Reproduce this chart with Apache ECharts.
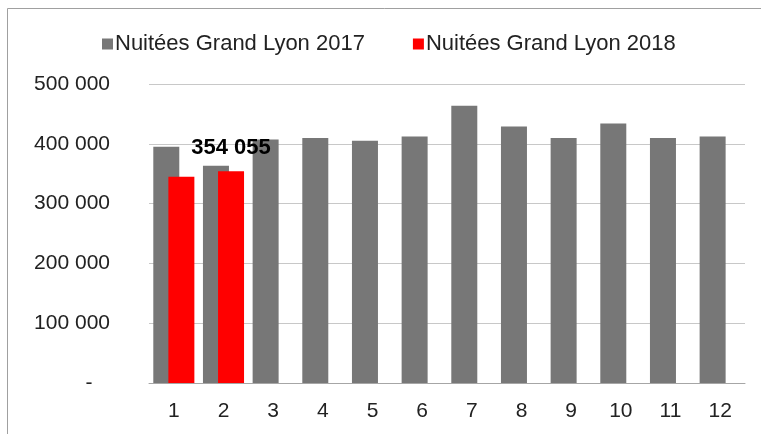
<!DOCTYPE html>
<html>
<head>
<meta charset="utf-8">
<script src="https://cdn.jsdelivr.net/npm/echarts@6/dist/echarts.min.js"></script>
<style>
  html, body { margin: 0; padding: 0; background: #fff; }
  #chart { width: 761px; height: 434px; }
</style>
</head>
<body>
<div id="chart"></div>
<script>
  // données
  var mois = ['1', '2', '3', '4', '5', '6', '7', '8', '9', '10', '11', '12'];
  var nuitees2017 = [395000, 363500, 407000, 409500, 405000, 412000, 463500, 429000, 409500, 434000, 409500, 412000];
  var nuitees2018 = [345000, 354055, null, null, null, null, null, null, null, null, null, null];
  var serieNoms = ['Nuitées Grand Lyon 2017', 'Nuitées Grand Lyon 2018'];

  var police = 'Liberation Sans, Arial, sans-serif';

  function formatMilliers(v) {
    if (v === 0) return '-   ';
    return String(Math.round(v)).replace(/\B(?=(\d{3})+(?!\d))/g, ' ');
  }

  var myChart = echarts.init(document.getElementById('chart'));

  var option = {
    animation: false,
    backgroundColor: '#fff',
    textStyle: { fontFamily: police },
    graphic: [{
      type: 'rect',
      shape: { x: 7.5, y: 8.5, width: 800, height: 500 },
      style: { fill: 'none', stroke: '#a0a0a0', lineWidth: 1 },
      silent: true
    }],
    legend: {
      top: 28,
      left: 97,
      icon: 'rect',
      itemWidth: 11,
      itemHeight: 11,
      itemGap: 48,
      textStyle: { fontSize: 22, color: '#222', fontFamily: police, padding: [0, 0, 0, -3] },
      data: serieNoms
    },
    grid: { left: 149, right: 16, top: 84, bottom: 51 },
    xAxis: {
      type: 'category',
      data: mois,
      axisLine: { lineStyle: { color: '#a6a6a6', width: 1 } },
      axisTick: { show: false },
      axisLabel: { fontSize: 21, color: '#222', margin: 18 }
    },
    yAxis: {
      type: 'value',
      min: 0,
      max: 500000,
      interval: 100000,
      axisLine: { show: false },
      axisTick: { show: false },
      axisLabel: { fontSize: 21, color: '#222', margin: 39, formatter: formatMilliers },
      splitLine: { lineStyle: { color: '#c8c8c8', width: 1 } }
    },
    series: [
      {
        name: serieNoms[0],
        type: 'bar',
        data: nuitees2017,
        barWidth: 26,
        barGap: '-42%',
        itemStyle: { color: '#777777' }
      },
      {
        name: serieNoms[1],
        type: 'bar',
        data: nuitees2018.map(function (v, i) {
          return i === 1
            ? { value: v, label: { show: true } }
            : v;
        }),
        barWidth: 26,
        itemStyle: { color: '#ff0000' },
        label: {
          show: false,
          position: 'top',
          distance: 12,
          fontSize: 22,
          fontWeight: 'bold',
          color: '#000',
          fontFamily: police,
          formatter: function (p) { return formatMilliers(p.value); }
        }
      }
    ]
  };

  myChart.setOption(option);
</script>
</body>
</html>
